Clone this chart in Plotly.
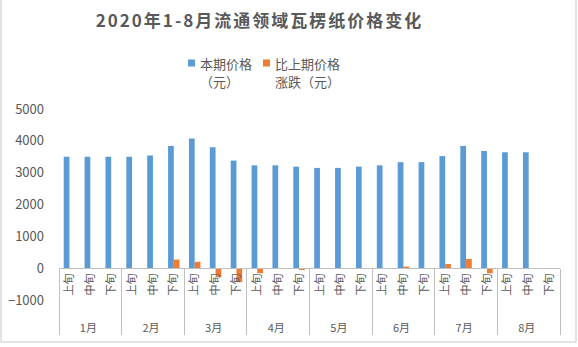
import plotly.graph_objects as go

# Ten-day periods within each month
months = ["1月", "2月", "3月", "4月", "5月", "6月", "7月", "8月"]
periods = ["上旬", "中旬", "下旬"]

# Current-period price (yuan); 8月下旬 not yet reported
price = [3500, 3500, 3500,
         3500, 3540, 3840,
         4070, 3800, 3380,
         3230, 3230, 3190,
         3150, 3150, 3190,
         3230, 3330, 3330,
         3520, 3840, 3680,
         3640, 3640, None]

# Change vs previous period (yuan)
change = [0, 0, 0,
          0, 0, 270,
          200, -280, -440,
          -160, 0, -50,
          0, 0, 0,
          0, 50, 0,
          130, 290, -160,
          0, 0, None]

# series labels, wrapped over two lines
series_line1 = ["本期价格", "比上期价格"]
series_line2 = ["（元）", "涨跌（元）"]
series_colors = ["#5B9BD5", "#ED7D31"]

# month row sits one line lower than the period row
month_level = ["<br>" + m for m in months for _ in periods]
period_level = [p for _ in months for p in periods]

GRAY = "#595959"
LINE = "#BFBFBF"
FONT = "Noto Sans CJK SC"

fig = go.Figure()
for vals, l1, l2, color in zip([price, change], series_line1, series_line2,
                               series_colors):
    fig.add_bar(x=[month_level, period_level], y=vals, name=l1 + l2,
                marker_color=color, marker_line_width=0)

W, H = 578, 347
L, R, T, B = 59, 18, 109, 47
pw, ph = W - L - R, H - T - B


def px_x(p):
    return (p - L) / pw


def px_y(p):
    return (H - B - p) / ph


fig.update_layout(
    width=W, height=H,
    margin=dict(l=L, r=R, t=T, b=B, autoexpand=False),
    paper_bgcolor="white", plot_bgcolor="white",
    font=dict(family=FONT, color=GRAY),
    showlegend=False,
    barmode="group", bargap=0.45, bargroupgap=0,
    title=dict(text="<b>2020年1-8月流通领域瓦楞纸价格变化</b>",
               x=259.5 / W, xanchor="center", xref="container",
               y=1 - 21 / H, yanchor="middle", yref="container",
               font=dict(size=17, color=GRAY, family=FONT)),
    xaxis=dict(type="multicategory", anchor="free", position=1 / 6,
               automargin=False,
               showline=True, linecolor=LINE, linewidth=1,
               showdividers=True, dividercolor=LINE, dividerwidth=1,
               tickangle=-90, tickfont=dict(size=11, color=GRAY),
               showgrid=False, zeroline=False),
    yaxis=dict(range=[-1000, 5000], dtick=1000, showgrid=False,
               automargin=False,
               zeroline=False, showline=False, ticks="",
               ticklabelstandoff=14,
               tickfont=dict(size=13, color=GRAY)),
)

# legend: colour swatch followed by a two-line label
legend_left = [188, 263]
for x0, l1, l2, color in zip(legend_left, series_line1, series_line2,
                             series_colors):
    fig.add_shape(type="rect", xref="paper", yref="paper",
                  x0=px_x(x0), x1=px_x(x0 + 7), y0=px_y(59.5), y1=px_y(66.5),
                  line_width=0, fillcolor=color)
    for text, yc in [(l1, 63), (l2, 81)]:
        fig.add_annotation(text=text, xref="paper", yref="paper",
                           x=px_x(x0 + 10), y=px_y(yc), xanchor="left",
                           yanchor="middle", align="left", showarrow=False,
                           font=dict(size=13, color=GRAY, family=FONT))

# light frame around the chart
for x0, y0, x1, y1 in [(1, 0, 1, 342), (576, 0, 576, 342), (1, 342, 576, 342)]:
    fig.add_shape(type="line", xref="paper", yref="paper",
                  x0=px_x(x0), x1=px_x(x1), y0=px_y(y0), y1=px_y(y1),
                  line=dict(color="#D9D9D9", width=1.5))

spacing = "document.querySelectorAll('.gtitle').forEach(function(e){e.style.letterSpacing='2px';});"
fig.write_html("out.html", post_script=spacing)
